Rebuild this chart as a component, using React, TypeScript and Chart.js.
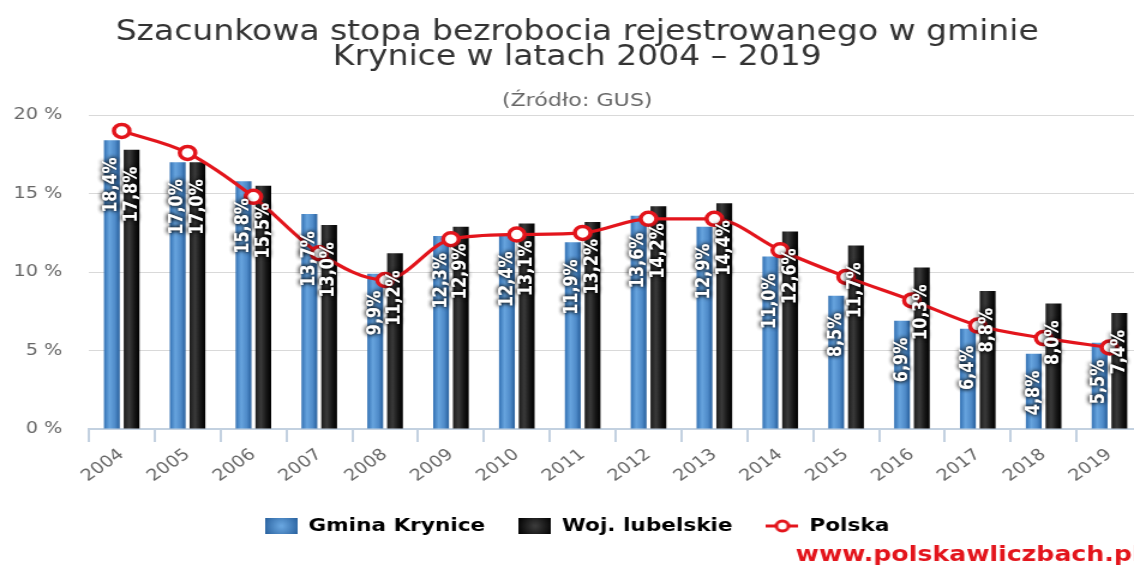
import React, { useEffect, useRef } from "react";
import { Chart, registerables } from "chart.js";

Chart.register(...registerables);

const years = ["2004", "2005", "2006", "2007", "2008", "2009", "2010", "2011", "2012", "2013", "2014", "2015", "2016", "2017", "2018", "2019"];
const gminaKrynice = [18.4, 17.0, 15.8, 13.7, 9.9, 12.3, 12.4, 11.9, 13.6, 12.9, 11.0, 8.5, 6.9, 6.4, 4.8, 5.5];
const wojLubelskie = [17.8, 17.0, 15.5, 13.0, 11.2, 12.9, 13.1, 13.2, 14.2, 14.4, 12.6, 11.7, 10.3, 8.8, 8.0, 7.4];
const polska = [19.0, 17.6, 14.8, 11.2, 9.5, 12.1, 12.4, 12.5, 13.4, 13.4, 11.4, 9.7, 8.2, 6.6, 5.8, 5.2];
const seriesNames = ["Gmina Krynice", "Woj. lubelskie", "Polska"];
const titleLines = ["Szacunkowa stopa bezrobocia rejestrowanego w gminie", "Krynice w latach 2004 – 2019"];
const subtitleText = "(Źródło: GUS)";
const watermarkText = "www.polskawliczbach.pl";

const FONT = "'DejaVu Sans', Verdana, sans-serif";
const CAT_PCT = 0.6;
const BAR_PCT = 0.8;
const BLUE_STOPS: [number, string][] = [[0, "#3371b3"], [0.35, "#67a4de"], [0.7, "#4f8bc9"], [1, "#275f9c"]];
const BLACK_STOPS: [number, string][] = [[0, "#1c1c1c"], [0.35, "#3a3a3a"], [0.7, "#161616"], [1, "#000000"]];
const RED = "#e3151c";

function barGradient(c: any, stops: [number, string][]) {
  const chart = c.chart;
  const xs = chart.scales && chart.scales.x;
  if (!xs || !chart.chartArea || c.dataIndex === undefined) return stops[1][1];
  const cw = xs.width / years.length;
  const slot = (cw * CAT_PCT) / 2;
  const bw = slot * BAR_PCT;
  const center = xs.getPixelForValue(c.dataIndex) + (c.datasetIndex - 0.5) * slot;
  const g = chart.ctx.createLinearGradient(center - bw / 2, 0, center + bw / 2, 0);
  stops.forEach(([o, col]) => g.addColorStop(o, col));
  return g;
}

function makeBox(stops: [number, string][]) {
  const cv = document.createElement("canvas");
  cv.width = 27;
  cv.height = 16;
  const x = cv.getContext("2d")!;
  const g = x.createRadialGradient(13.5, 8, 1, 13.5, 8, 16);
  g.addColorStop(0, stops[1][1]);
  g.addColorStop(1, stops[3][1]);
  x.fillStyle = g;
  x.fillRect(0, 0, 27, 16);
  return cv;
}

function makeLineMarker() {
  const cv = document.createElement("canvas");
  cv.width = 27;
  cv.height = 16;
  const x = cv.getContext("2d")!;
  x.strokeStyle = RED;
  x.lineWidth = 3;
  x.beginPath();
  x.moveTo(0, 8);
  x.lineTo(27, 8);
  x.stroke();
  x.beginPath();
  x.arc(13.5, 8, 5, 0, Math.PI * 2);
  x.fillStyle = "#fff";
  x.fill();
  x.stroke();
  return cv;
}

const barLabelPlugin = {
  id: "barLabels",
  afterDatasetsDraw(chart: any) {
    const ctx = chart.ctx;
    [0, 1].forEach((di) => {
      const meta = chart.getDatasetMeta(di);
      const data = chart.data.datasets[di].data as number[];
      meta.data.forEach((el: any, i: number) => {
        const txt = data[i].toFixed(1).replace(".", ",") + "%";
        ctx.save();
        ctx.translate(el.x, el.y + 17);
        ctx.rotate(-Math.PI / 2);
        ctx.font = `bold 16px ${FONT}`;
        ctx.textAlign = "right";
        ctx.textBaseline = "middle";
        ctx.shadowColor = "rgba(0,0,0,0.9)";
        ctx.shadowBlur = 4;
        ctx.fillStyle = "#ffffff";
        ctx.fillText(txt, 0, 0);
        ctx.fillText(txt, 0, 0);
        ctx.restore();
      });
    });
  },
};

const watermarkPlugin = {
  id: "watermark",
  afterDraw(chart: any) {
    const ctx = chart.ctx;
    ctx.save();
    ctx.font = `bold 21px ${FONT}`;
    ctx.fillStyle = RED;
    ctx.textAlign = "left";
    ctx.textBaseline = "alphabetic";
    ctx.fillText(watermarkText, 663, 561);
    ctx.restore();
  },
};

export default function App() {
  const ref = useRef<HTMLCanvasElement | null>(null);

  useEffect(() => {
    if (!ref.current) return;
    Chart.defaults.font.family = FONT;
    const markers = [makeBox(BLUE_STOPS), makeBox(BLACK_STOPS), makeLineMarker()];
    const chart = new Chart(ref.current, {
      type: "bar",
      data: {
        labels: years,
        datasets: [
          {
            label: seriesNames[0],
            data: gminaKrynice,
            backgroundColor: (c: any) => barGradient(c, BLUE_STOPS),
            borderWidth: 0,
            categoryPercentage: CAT_PCT,
            barPercentage: BAR_PCT,
            order: 1,
          },
          {
            label: seriesNames[1],
            data: wojLubelskie,
            backgroundColor: (c: any) => barGradient(c, BLACK_STOPS),
            borderWidth: 0,
            categoryPercentage: CAT_PCT,
            barPercentage: BAR_PCT,
            order: 1,
          },
          {
            type: "line",
            label: seriesNames[2],
            data: polska,
            borderColor: RED,
            borderWidth: 3.2,
            pointRadius: 6.5,
            pointBorderWidth: 3.5,
            pointBackgroundColor: "#ffffff",
            pointBorderColor: RED,
            cubicInterpolationMode: "monotone",
            order: 0,
          } as any,
        ],
      },
      options: {
        responsive: false,
        animation: false,
        devicePixelRatio: 1,
        layout: { padding: { left: 10, right: 18, top: 0, bottom: 23 } },
        plugins: {
          title: {
            display: true,
            text: titleLines,
            color: "#333333",
            font: { size: 27.5, weight: "normal", lineHeight: 0.91 },
            padding: { top: 20, bottom: 8 },
          },
          subtitle: {
            display: true,
            text: subtitleText,
            color: "#666666",
            font: { size: 18.5, weight: "normal" },
            padding: { top: 12, bottom: 3 },
          },
          legend: {
            position: "bottom",
            labels: {
              usePointStyle: true,
              pointStyleWidth: 27,
              boxHeight: 16,
              padding: 28,
              color: "#333333",
              font: { size: 18, weight: "bold" },
              generateLabels: () =>
                seriesNames.map((n, i) => ({
                  text: n,
                  pointStyle: markers[i] as any,
                  fillStyle: "transparent",
                  strokeStyle: "transparent",
                  lineWidth: 0,
                  hidden: false,
                  datasetIndex: i,
                })),
            },
          },
          tooltip: { enabled: false },
        },
        scales: {
          x: {
            afterFit: (s: any) => {
              s.paddingLeft = 0;
              s.paddingRight = 0;
            },
            grid: {
              display: true,
              drawOnChartArea: false,
              drawTicks: true,
              tickLength: 13,
              offset: true,
              color: "#c3d1e0",
              lineWidth: 2,
            },
            border: { display: true, color: "#c3d1e0", width: 2 },
            ticks: {
              autoSkip: false,
              minRotation: 40,
              maxRotation: 40,
              color: "#666666",
              font: { size: 16 },
              padding: 3,
            },
          },
          y: {
            min: 0,
            max: 20,
            afterFit: (s: any) => {
              s.width = 64;
            },
            grid: { color: "#d9d9d9", drawTicks: false, lineWidth: 1 },
            border: { display: false },
            ticks: {
              stepSize: 5,
              padding: 22,
              color: "#666666",
              font: { size: 16 },
              callback: (v: any) => `${v} %`,
            },
          },
        },
      },
      plugins: [barLabelPlugin, watermarkPlugin],
    });
    return () => chart.destroy();
  }, []);

  return (
    <div
      style={{
        position: "fixed",
        left: 0,
        top: 0,
        width: 1134,
        height: 568,
        overflow: "hidden",
        background: "#ffffff",
      }}
    >
      <canvas
        ref={ref}
        width={970}
        height={568}
        style={{ width: "1164px", height: "568px", display: "block" }}
      />
    </div>
  );
}
